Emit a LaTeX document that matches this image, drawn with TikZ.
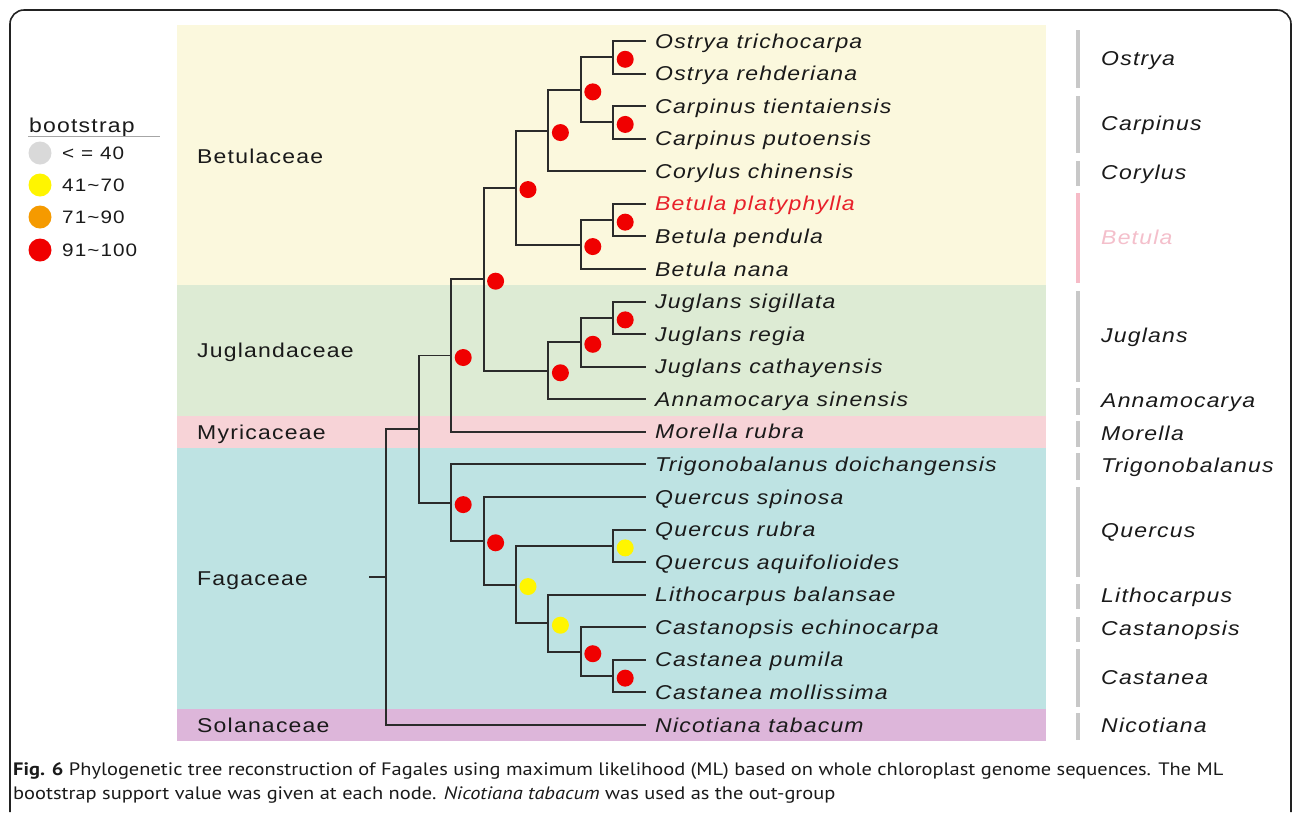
\documentclass[tikz,border=0pt]{standalone}
\usepackage{fontspec}
\setmainfont{Liberation Sans}
\newfontfamily\labfont[FakeStretch=1.15,LetterSpace=6]{Liberation Sans}
\newfontfamily\capfont[FakeStretch=1.135]{PT Sans}
\definecolor{linec}{HTML}{2B2B2B}
\definecolor{txt}{HTML}{1A1A1A}
\definecolor{bandY}{HTML}{FBF8DD}
\definecolor{bandG}{HTML}{DDEBD4}
\definecolor{bandP}{HTML}{F7D3D7}
\definecolor{bandC}{HTML}{BEE3E3}
\definecolor{bandV}{HTML}{DDB6DA}
\definecolor{barc}{HTML}{C8C8C8}
\definecolor{pinkbar}{HTML}{F6BBC7}
\definecolor{pinktxt}{HTML}{F4BFCB}
\definecolor{redlab}{HTML}{E8202A}
\definecolor{dred}{HTML}{F00000}
\definecolor{dyel}{HTML}{FFF500}
\definecolor{dora}{HTML}{F59A00}
\definecolor{dgray}{HTML}{D9D9D9}
\definecolor{framec}{HTML}{222222}
\tikzset{
  br/.style={draw=linec,line width=1.9pt},
  leaf/.style={anchor=base west,inner sep=0pt,font=\labfont\itshape\fontsize{20}{24}\selectfont,text=txt},
  fam/.style={anchor=base west,inner sep=0pt,font=\labfont\fontsize{20}{24}\selectfont,text=txt},
  genus/.style={anchor=base west,inner sep=0pt,font=\labfont\itshape\fontsize{20}{24}\selectfont,text=txt},
  legtxt/.style={anchor=base west,inner sep=0pt,font=\labfont\fontsize{18}{22}\selectfont,text=txt},
  gbar/.style={draw=barc,line width=4pt},
  bs/.style={circle,inner sep=0pt,minimum size=17pt,fill=#1},
  lg/.style={circle,inner sep=0pt,minimum size=23pt,fill=#1},
  capt/.style={anchor=base west,inner sep=0pt,font=\capfont\fontsize{18}{23}\selectfont,text=txt},
}
\begin{document}
\begin{tikzpicture}[x=1pt,y=-1pt]
\useasboundingbox (0,0) rectangle (1292,812);
\fill[white] (0,0) rectangle (1292,812);
% frame
\draw[draw=framec,line width=1.6pt,rounded corners=14pt] (10,812) -- (10,10) -- (1291,10) -- (1291,812);
% family bands
\fill[bandY] (177,24.7) rectangle (1046,285.3);
\fill[bandG] (177,285.3) rectangle (1046,415.6);
\fill[bandP] (177,415.6) rectangle (1046,448.1);
\fill[bandC] (177,448.1) rectangle (1046,708.7);
\fill[bandV] (177,708.7) rectangle (1046,741.3);
% family labels (baseline = centre + 7)
\node[fam] (fBet) at (197,163) {Betulaceae};
\node[fam] (fJug) at (197,357) {Juglandaceae};
\node[fam] (fMyr) at (197,439) {Myricaceae};
\node[fam] (fFag) at (197,585) {Fagaceae};
\node[fam] (fSol) at (197,732) {Solanaceae};
% legend
\node[anchor=base west,inner sep=0pt,font=\labfont\fontsize{20}{24}\selectfont,text=txt] (lgT) at (29,132) {bootstrap};
\draw[draw=gray!70,line width=1.3pt] (28,136.5) -- (160,136.5);
\node[lg=dgray] (lg1) at (40,153) {};
\node[lg=dyel] (lg2) at (40,185) {};
\node[lg=dora] (lg3) at (40,217) {};
\node[lg=dred] (lg4) at (40,250) {};
\node[legtxt] (lt1) at (62,159.5) {< = 40};
\node[legtxt] (lt2) at (62,191.5) {41\char"7E 70};
\node[legtxt] (lt3) at (62,223.5) {71\char"7E 90};
\node[legtxt] (lt4) at (62,256.5) {91\char"7E 100};
% leaf tips
\coordinate (tOT) at (645.6,41.00);
\coordinate (tOR) at (645.6,73.57);
\coordinate (tCT) at (645.6,106.14);
\coordinate (tCP) at (645.6,138.71);
\coordinate (tCor) at (645.6,171.29);
\coordinate (tBPl) at (645.6,203.86);
\coordinate (tBPe) at (645.6,236.43);
\coordinate (tBN) at (645.6,269.00);
\coordinate (tJS) at (645.6,301.57);
\coordinate (tJR) at (645.6,334.14);
\coordinate (tJC) at (645.6,366.71);
\coordinate (tAn) at (645.6,399.29);
\coordinate (tMo) at (645.6,431.86);
\coordinate (tTr) at (645.6,464.43);
\coordinate (tQS) at (645.6,497.00);
\coordinate (tQR) at (645.6,529.57);
\coordinate (tQA) at (645.6,562.14);
\coordinate (tLi) at (645.6,594.71);
\coordinate (tCs) at (645.6,627.29);
\coordinate (tCaP) at (645.6,659.86);
\coordinate (tCaM) at (645.6,692.43);
\coordinate (tNi) at (645.6,725.00);
% leaf labels
\begin{scope}[shift={(0,7)}]
\node[leaf] (lOT) at (655,41.00) {Ostrya trichocarpa};
\node[leaf] (lOR) at (655,73.57) {Ostrya rehderiana};
\node[leaf] (lCT) at (655,106.14) {Carpinus tientaiensis};
\node[leaf] (lCP) at (655,138.71) {Carpinus putoensis};
\node[leaf] (lCor) at (655,171.29) {Corylus chinensis};
\node[leaf,text=redlab] (lBPl) at (655,203.86) {Betula platyphylla};
\node[leaf] (lBPe) at (655,236.43) {Betula pendula};
\node[leaf] (lBN) at (655,269.00) {Betula nana};
\node[leaf] (lJS) at (655,301.57) {Juglans sigillata};
\node[leaf] (lJR) at (655,334.14) {Juglans regia};
\node[leaf] (lJC) at (655,366.71) {Juglans cathayensis};
\node[leaf] (lAn) at (655,399.29) {Annamocarya sinensis};
\node[leaf] (lMo) at (655,431.86) {Morella rubra};
\node[leaf] (lTr) at (655,464.43) {Trigonobalanus doichangensis};
\node[leaf] (lQS) at (655,497.00) {Quercus spinosa};
\node[leaf] (lQR) at (655,529.57) {Quercus rubra};
\node[leaf] (lQA) at (655,562.14) {Quercus aquifolioides};
\node[leaf] (lLi) at (655,594.71) {Lithocarpus balansae};
\node[leaf] (lCs) at (655,627.29) {Castanopsis echinocarpa};
\node[leaf] (lCaP) at (655,659.86) {Castanea pumila};
\node[leaf] (lCaM) at (655,692.43) {Castanea mollissima};
\node[leaf] (lNi) at (655,725.00) {Nicotiana tabacum};
\end{scope}
% internal nodes
\coordinate (STUB) at (369,577.03);
\coordinate (ROOT) at (386.4,577.03);
\coordinate (N1) at (418.8,429.06);
\coordinate (BJM) at (451.2,355.52);
\coordinate (FAG) at (451.2,502.60);
\coordinate (BJ) at (483.6,279.18);
\coordinate (F2) at (483.6,540.77);
\coordinate (BETU) at (516,187.57);
\coordinate (F3) at (516,584.54);
\coordinate (BA) at (548.4,130.57);
\coordinate (JUG) at (548.4,370.79);
\coordinate (F4) at (548.4,623.21);
\coordinate (OC) at (580.8,89.86);
\coordinate (BET) at (580.8,244.57);
\coordinate (JJ) at (580.8,342.29);
\coordinate (F5) at (580.8,651.71);
\coordinate (OST) at (613.2,57.29);
\coordinate (CAR) at (613.2,122.43);
\coordinate (BPP) at (613.2,220.14);
\coordinate (JSR) at (613.2,317.86);
\coordinate (QUE) at (613.2,545.86);
\coordinate (CAS) at (613.2,676.14);
% branches
\draw[br] (STUB) -- (ROOT);
\draw[br] (ROOT) |- (N1);   \draw[br] (ROOT) |- (tNi);
\draw[br] (N1) |- (BJM);    \draw[br] (N1) |- (FAG);
\draw[br] (BJM) |- (BJ);    \draw[br] (BJM) |- (tMo);
\draw[br] (BJ) |- (BETU);   \draw[br] (BJ) |- (JUG);
\draw[br] (BETU) |- (BA);   \draw[br] (BETU) |- (BET);
\draw[br] (BA) |- (OC);     \draw[br] (BA) |- (tCor);
\draw[br] (OC) |- (OST);    \draw[br] (OC) |- (CAR);
\draw[br] (OST) |- (tOT);   \draw[br] (OST) |- (tOR);
\draw[br] (CAR) |- (tCT);   \draw[br] (CAR) |- (tCP);
\draw[br] (BET) |- (BPP);   \draw[br] (BET) |- (tBN);
\draw[br] (BPP) |- (tBPl);  \draw[br] (BPP) |- (tBPe);
\draw[br] (JUG) |- (JJ);    \draw[br] (JUG) |- (tAn);
\draw[br] (JJ) |- (JSR);    \draw[br] (JJ) |- (tJC);
\draw[br] (JSR) |- (tJS);   \draw[br] (JSR) |- (tJR);
\draw[br] (FAG) |- (tTr);   \draw[br] (FAG) |- (F2);
\draw[br] (F2) |- (tQS);    \draw[br] (F2) |- (F3);
\draw[br] (F3) |- (QUE);    \draw[br] (F3) |- (F4);
\draw[br] (QUE) |- (tQR);   \draw[br] (QUE) |- (tQA);
\draw[br] (F4) |- (tLi);    \draw[br] (F4) |- (F5);
\draw[br] (F5) |- (tCs);    \draw[br] (F5) |- (CAS);
\draw[br] (CAS) |- (tCaP);  \draw[br] (CAS) |- (tCaM);
% bootstrap dots
\foreach \n in {OST,CAR,OC,BA,BPP,BET,BETU,BJ,JSR,JJ,JUG,BJM,FAG,F2,F5,CAS}
  \node[bs=dred] (d\n) at ([shift={(12,2)}]\n) {};
\foreach \n in {F3,QUE,F4}
  \node[bs=dyel] (d\n) at ([shift={(12,2)}]\n) {};
% genus bars
\draw[gbar] (1078,30) -- (1078,88);
\draw[gbar] (1078,96) -- (1078,153);
\draw[gbar] (1078,161) -- (1078,186);
\draw[gbar,draw=pinkbar] (1078,193) -- (1078,283);
\draw[gbar] (1078,291) -- (1078,382);
\draw[gbar] (1078,388) -- (1078,415);
\draw[gbar] (1078,421) -- (1078,447);
\draw[gbar] (1078,453) -- (1078,480);
\draw[gbar] (1078,487) -- (1078,577);
\draw[gbar] (1078,584) -- (1078,609);
\draw[gbar] (1078,617) -- (1078,642);
\draw[gbar] (1078,649) -- (1078,707);
\draw[gbar] (1078,713) -- (1078,740);
% genus labels
\begin{scope}[shift={(0,7)}]
\node[genus] (gOst) at (1101,58) {Ostrya};
\node[genus] (gCar) at (1101,123) {Carpinus};
\node[genus] (gCor) at (1101,172) {Corylus};
\node[genus,text=pinktxt] (gBet) at (1101,237) {Betula};
\node[genus] (gJug) at (1101,335) {Juglans};
\node[genus] (gAnn) at (1101,400) {Annamocarya};
\node[genus] (gMor) at (1101,433) {Morella};
\node[genus] (gTri) at (1101,465) {Trigonobalanus};
\node[genus] (gQue) at (1101,530) {Quercus};
\node[genus] (gLit) at (1101,595) {Lithocarpus};
\node[genus] (gCas) at (1101,628) {Castanopsis};
\node[genus] (gCst) at (1101,677) {Castanea};
\node[genus] (gNic) at (1101,725) {Nicotiana};
\end{scope}
% caption
\node[capt] (cap1) at (13,775)
  {\textbf{Fig. 6} Phylogenetic tree reconstruction of Fagales using maximum likelihood (ML) based on whole chloroplast genome sequences. The ML};
\node[capt] (cap2) at (13,799)
  {bootstrap support value was given at each node. \textit{Nicotiana tabacum} was used as the out-group};
\end{tikzpicture}
\end{document}
